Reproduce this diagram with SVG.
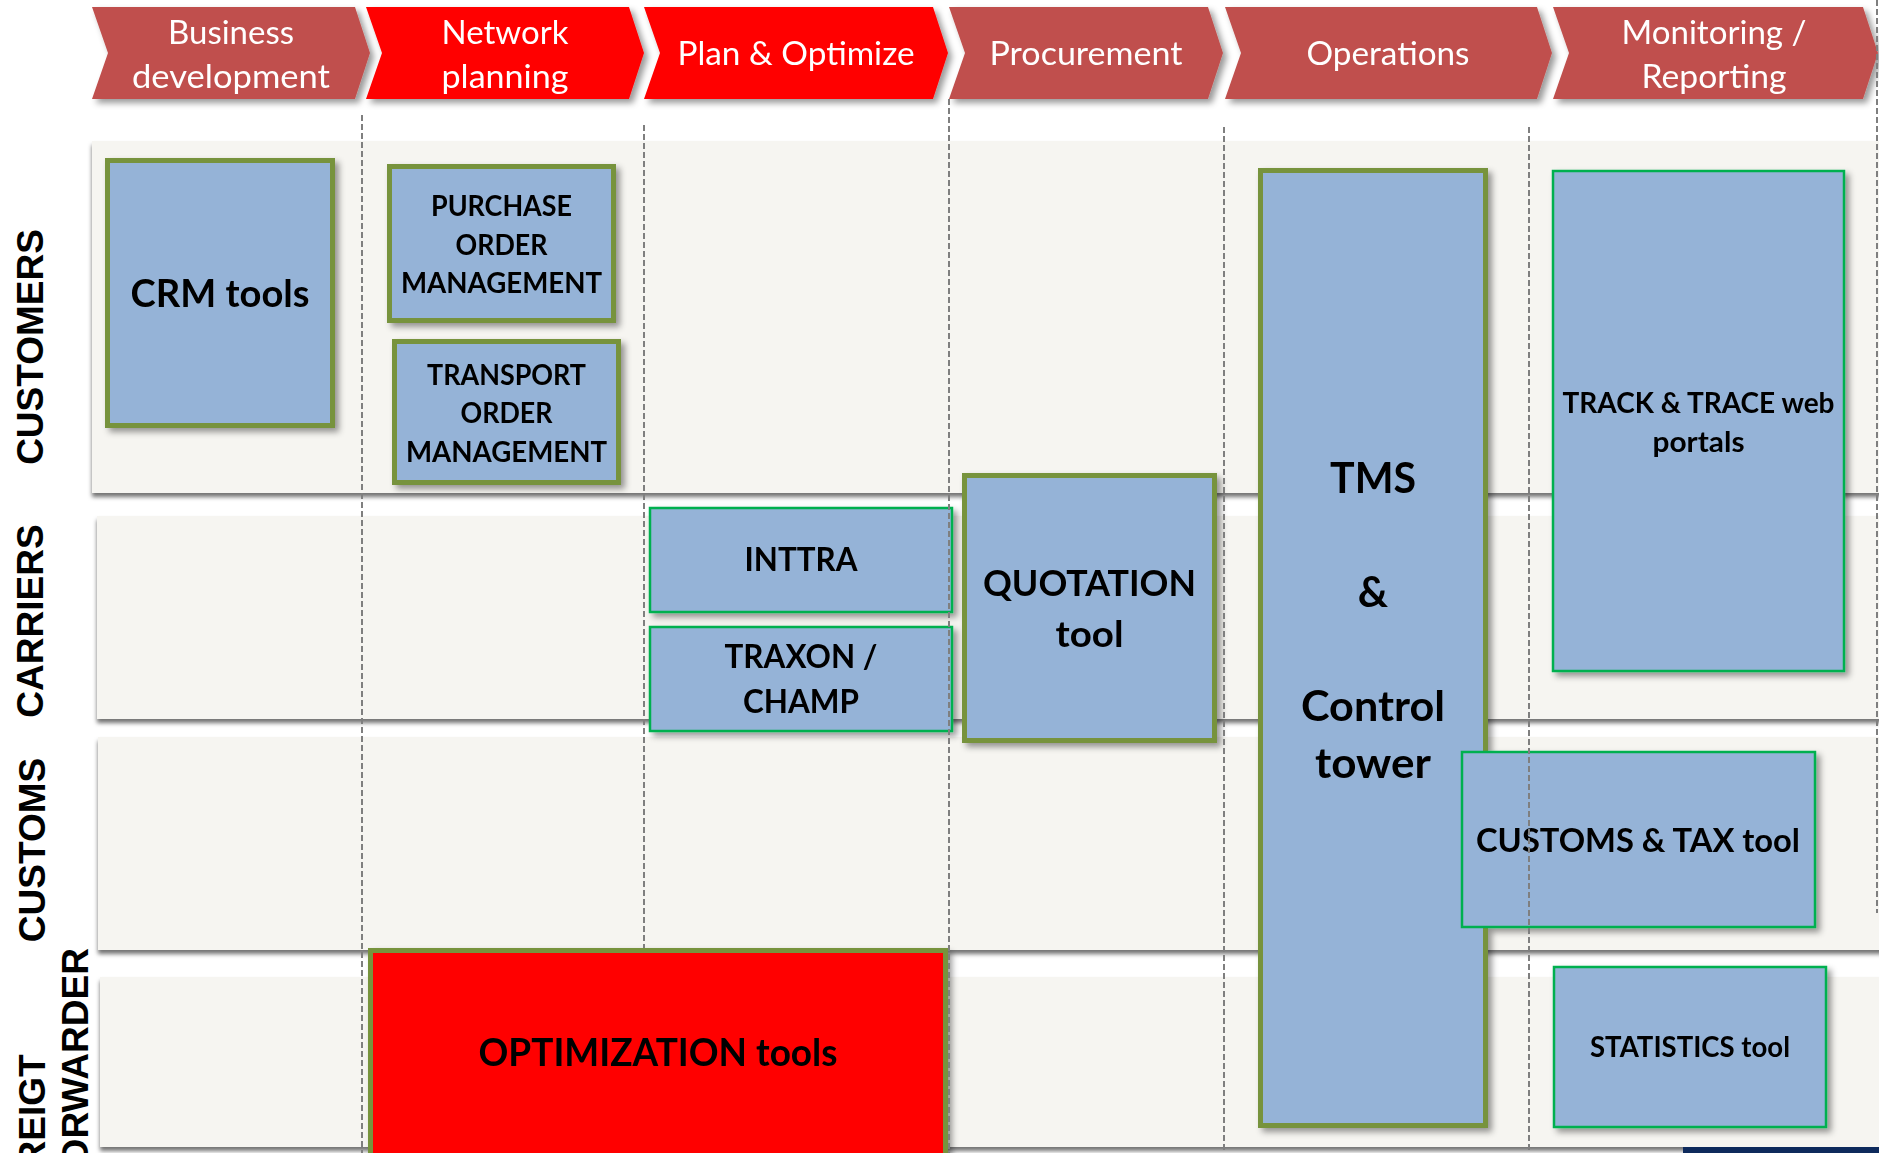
<svg xmlns="http://www.w3.org/2000/svg" width="1879" height="1153" viewBox="0 0 1879 1153">
<defs>
<filter id="sh" x="-10%" y="-10%" width="130%" height="130%">
<feGaussianBlur in="SourceAlpha" stdDeviation="3"/>
<feOffset dx="4" dy="4" result="b"/>
<feFlood flood-color="#000" flood-opacity="0.4"/>
<feComposite in2="b" operator="in"/>
<feMerge><feMergeNode/><feMergeNode in="SourceGraphic"/></feMerge>
</filter>
<filter id="bsh" x="-5%" y="-10%" width="110%" height="130%">
<feGaussianBlur in="SourceAlpha" stdDeviation="2"/>
<feOffset dx="0" dy="4" result="b"/>
<feFlood flood-color="#000" flood-opacity="0.55"/>
<feComposite in2="b" operator="in"/>
<feMerge><feMergeNode/><feMergeNode in="SourceGraphic"/></feMerge>
</filter>
</defs>
<style>
.ca{fill:#c0504d}
.cb{fill:#ff0000}
.ht{font-family:Lato,'Open Sans',sans-serif;font-size:32.4px;fill:#ffffff;text-anchor:middle}
.band{fill:#f6f5f1}
.rl{font-family:'Liberation Sans',Arial,sans-serif;font-weight:bold;font-size:37px;fill:#000000}
.nb{fill:#95b3d7;stroke:#77933c;stroke-width:5}
.ng{fill:#95b3d7;stroke:#00b050;stroke-width:2.5}
.nr{fill:#ff0000;stroke:#77933c;stroke-width:5}
.nt{font-family:Lato,'Open Sans',sans-serif;font-weight:bold;fill:#000000;text-anchor:middle}
.gl{stroke:#7f7f7f;stroke-width:2;stroke-dasharray:6 3;fill:none}
</style>
<rect width="1879" height="1153" fill="#ffffff"/>

<g id="bands" filter="url(#bsh)">
<rect class="band" x="92" y="141" width="1800" height="352"/>
<rect class="band" x="97" y="516" width="1800" height="203"/>
<rect class="band" x="98" y="737" width="1800" height="213"/>
<rect class="band" x="100" y="977" width="1800" height="170"/>
</g>

<g id="row-labels">
<text class="rl" transform="translate(43,347) rotate(-90)" text-anchor="middle">CUSTOMERS</text>
<text class="rl" transform="translate(43,621) rotate(-90)" text-anchor="middle">CARRIERS</text>
<text class="rl" transform="translate(45,850) rotate(-90)" text-anchor="middle">CUSTOMS</text>
<text class="rl" transform="translate(45,1190) rotate(-90)" text-anchor="start">FREIGT</text>
<text class="rl" transform="translate(88,1190) rotate(-90)" text-anchor="start">FORWARDER</text>
</g>

<g id="header" filter="url(#sh)">
<g id="h-business">
<path class="ca" d="M92,7 L355,7 L370,53 L355,99 L92,99 L108,53 Z"/>
<text class="ht" x="231" y="44" textLength="126" lengthAdjust="spacingAndGlyphs">Business</text>
<text class="ht" x="231" y="88" textLength="198" lengthAdjust="spacingAndGlyphs">development</text>
</g>
<g id="h-network">
<path class="cb" d="M366,7 L629,7 L644,53 L629,99 L366,99 L382,53 Z"/>
<text class="ht" x="505" y="44" textLength="127" lengthAdjust="spacingAndGlyphs">Network</text>
<text class="ht" x="505" y="88" textLength="127" lengthAdjust="spacingAndGlyphs">planning</text>
</g>
<g id="h-plan">
<path class="cb" d="M644,7 L933,7 L948,53 L933,99 L644,99 L660,53 Z"/>
<text class="ht" x="796" y="65" textLength="237" lengthAdjust="spacingAndGlyphs">Plan &amp; Optimize</text>
</g>
<g id="h-procurement">
<path class="ca" d="M949,7 L1208,7 L1223,53 L1208,99 L949,99 L965,53 Z"/>
<text class="ht" x="1086" y="65" textLength="193" lengthAdjust="spacingAndGlyphs">Procurement</text>
</g>
<g id="h-operations">
<path class="ca" d="M1225,7 L1537,7 L1552,53 L1537,99 L1225,99 L1241,53 Z"/>
<text class="ht" x="1388" y="65" textLength="163" lengthAdjust="spacingAndGlyphs">Operations</text>
</g>
<g id="h-monitoring">
<path class="ca" d="M1553,7 L1863,7 L1878,53 L1863,99 L1553,99 L1569,53 Z"/>
<text class="ht" x="1714" y="44" textLength="185" lengthAdjust="spacingAndGlyphs">Monitoring /</text>
<text class="ht" x="1714" y="88" textLength="145" lengthAdjust="spacingAndGlyphs">Reporting</text>
</g>
</g>

<g id="nodes" filter="url(#sh)">
<g id="crm">
<rect class="nb" x="107.5" y="160.5" width="225" height="265"/>
<text class="nt" x="220" y="307" font-size="37.8" textLength="179" lengthAdjust="spacingAndGlyphs">CRM tools</text>
</g>
<g id="purchase">
<rect class="nb" x="389.5" y="166.5" width="224" height="154"/>
<text class="nt" x="501.5" y="216" font-size="28.4" textLength="141" lengthAdjust="spacingAndGlyphs">PURCHASE</text>
<text class="nt" x="501.5" y="255" font-size="28.4" textLength="92" lengthAdjust="spacingAndGlyphs">ORDER</text>
<text class="nt" x="501.5" y="293" font-size="28.4" textLength="201" lengthAdjust="spacingAndGlyphs">MANAGEMENT</text>
</g>
<g id="transport">
<rect class="nb" x="394.5" y="341.5" width="224" height="141"/>
<text class="nt" x="506.5" y="385" font-size="28.4" textLength="159" lengthAdjust="spacingAndGlyphs">TRANSPORT</text>
<text class="nt" x="506.5" y="423" font-size="28.4" textLength="92" lengthAdjust="spacingAndGlyphs">ORDER</text>
<text class="nt" x="506.5" y="462" font-size="28.4" textLength="201" lengthAdjust="spacingAndGlyphs">MANAGEMENT</text>
</g>
<g id="inttra">
<rect class="ng" x="650" y="508" width="302" height="104"/>
<text class="nt" x="801" y="571" font-size="32.9" textLength="113" lengthAdjust="spacingAndGlyphs">INTTRA</text>
</g>
<g id="traxon">
<rect class="ng" x="650" y="627" width="302" height="104"/>
<text class="nt" x="801" y="668" font-size="32.9" textLength="153" lengthAdjust="spacingAndGlyphs">TRAXON /</text>
<text class="nt" x="801" y="713" font-size="32.9" textLength="116" lengthAdjust="spacingAndGlyphs">CHAMP</text>
</g>
<g id="quotation">
<rect class="nb" x="964.5" y="475.5" width="250" height="265"/>
<text class="nt" x="1089.5" y="596" font-size="36.9" textLength="213" lengthAdjust="spacingAndGlyphs">QUOTATION</text>
<text class="nt" x="1089.5" y="647" font-size="36.9" textLength="68" lengthAdjust="spacingAndGlyphs">tool</text>
</g>
<g id="tms">
<rect class="nb" x="1260.5" y="170.5" width="225" height="955"/>
<text class="nt" x="1373" y="493" font-size="41.9" textLength="86" lengthAdjust="spacingAndGlyphs">TMS</text>
<text class="nt" x="1373" y="607" font-size="41.9">&amp;</text>
<text class="nt" x="1373" y="721" font-size="41.9" textLength="144" lengthAdjust="spacingAndGlyphs">Control</text>
<text class="nt" x="1373" y="778" font-size="41.9" textLength="116" lengthAdjust="spacingAndGlyphs">tower</text>
</g>
<g id="track">
<rect class="ng" x="1553" y="171" width="291" height="500"/>
<text class="nt" x="1698.5" y="413" font-size="28.4" textLength="272" lengthAdjust="spacingAndGlyphs">TRACK &amp; TRACE web</text>
<text class="nt" x="1698.5" y="452" font-size="28.4" textLength="92" lengthAdjust="spacingAndGlyphs">portals</text>
</g>
<g id="customs-tax">
<rect class="ng" x="1462" y="752" width="353" height="175"/>
<text class="nt" x="1638" y="852" font-size="32.9" textLength="324" lengthAdjust="spacingAndGlyphs">CUSTOMS &amp; TAX tool</text>
</g>
<g id="statistics">
<rect class="ng" x="1554" y="967" width="272" height="160"/>
<text class="nt" x="1690" y="1057" font-size="27.9" textLength="200" lengthAdjust="spacingAndGlyphs">STATISTICS tool</text>
</g>
<g id="optimization">
<rect class="nr" x="370.5" y="950.5" width="575" height="220"/>
<text class="nt" x="658" y="1066" font-size="37.4" textLength="359" lengthAdjust="spacingAndGlyphs">OPTIMIZATION tools</text>
</g>
</g>

<g id="grid-lines">
<line class="gl" x1="362" y1="115" x2="362" y2="1153"/>
<line class="gl" x1="644" y1="125" x2="644" y2="948"/>
<line class="gl" x1="949" y1="99" x2="949" y2="1153"/>
<line class="gl" x1="1224" y1="127" x2="1224" y2="1153"/>
<line class="gl" x1="1529" y1="127" x2="1529" y2="1153"/>
<line class="gl" x1="1877" y1="0" x2="1877" y2="913"/>
</g>

<rect x="1683" y="1147" width="196" height="6" fill="#0e2a5c"/>
</svg>
